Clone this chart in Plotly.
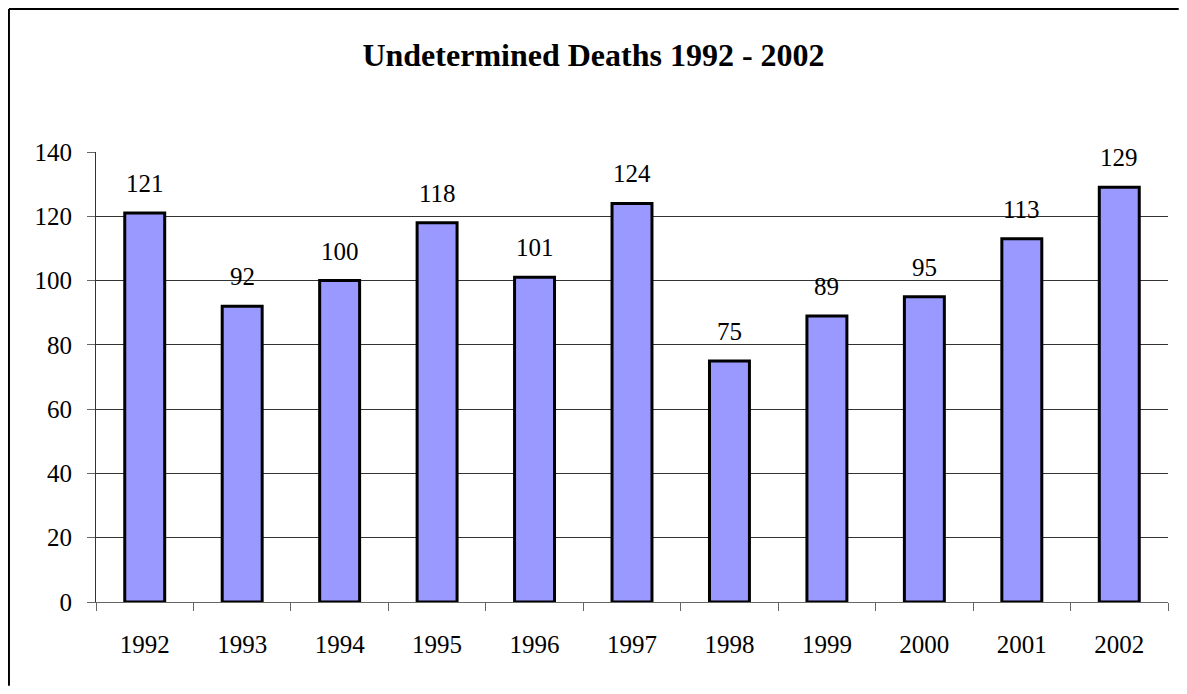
import plotly.graph_objects as go

# undetermined deaths by year
years = ["1992", "1993", "1994", "1995", "1996", "1997", "1998", "1999", "2000", "2001", "2002"]
deaths = [121, 92, 100, 118, 101, 124, 75, 89, 95, 113, 129]
y_ticks = [0, 20, 40, 60, 80, 100, 120, 140]

serif = "Liberation Serif, Times New Roman, serif"

fig = go.Figure()
fig.add_trace(go.Bar(
    x=years, y=deaths,
    marker=dict(color="#9999FF", line=dict(color="black", width=3)),
    hoverinfo="x+y",
))

# value labels above the bars, Excel style (x given as category index)
for i, v in enumerate(deaths):
    fig.add_annotation(x=i, y=v, text=str(v), showarrow=False,
                       yanchor="bottom", yshift=14,
                       font=dict(family=serif, size=25, color="black"))

# outer chart border: only top and left edges are visible in the original
# (kept inside the figure, otherwise stray edges get drawn)
bx, by = -0.0812, 1.3178
fig.add_shape(type="line", xref="paper", yref="paper", x0=bx, x1=bx, y0=-0.186, y1=by,
              line=dict(color="black", width=2), layer="above")
fig.add_shape(type="line", xref="paper", yref="paper", x0=bx, x1=1.01, y0=by, y1=by,
              line=dict(color="black", width=2), layer="above")

# sized so the page (with its 8px body margin) fits the window
fig.update_layout(
    width=1171, height=678,
    margin=dict(l=88, r=11, t=144, b=84),
    paper_bgcolor="white", plot_bgcolor="white",
    bargap=0.59,
    showlegend=False,
    title=dict(text="<b>Undetermined Deaths 1992 - 2002</b>", x=0.5, xanchor="center",
               y=1 - 47 / 678, yanchor="middle",
               font=dict(family=serif, size=32, color="black")),
    font=dict(family=serif, size=25, color="black"),
)
fig.update_xaxes(
    type="category", range=[-0.5, len(years) - 0.5],
    showline=True, linecolor="#666666", linewidth=1,
    ticks="outside", ticklen=8, tickcolor="#666666", tickson="boundaries",
    showgrid=False, tickfont=dict(family=serif, size=25), ticklabelstandoff=20,
)
fig.update_yaxes(
    range=[0, 140], tickvals=y_ticks,
    showline=True, linecolor="#333333", linewidth=1,
    ticks="outside", ticklen=8, tickcolor="#666666",
    showgrid=True, gridcolor="#333333", gridwidth=1,
    zeroline=False, tickfont=dict(family=serif, size=25), ticklabelstandoff=10,
)

fig.write_html("out.html")
